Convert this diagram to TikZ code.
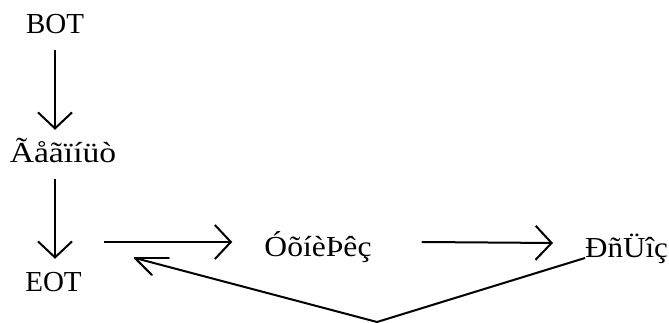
\documentclass[tikz,border=0pt]{standalone}
\usepackage{fontspec}
\setmainfont{Liberation Serif}
\usetikzlibrary{arrows.meta}
\begin{document}
\begin{tikzpicture}[x=1pt,y=1pt,
  lbl/.style={inner sep=0pt, text height=20pt, text depth=6pt,
              font=\fontsize{29}{29}\selectfont},
  wide/.style={lbl, font=\fontsize{29}{29}\selectfont\addfontfeature{FakeStretch=#1}},
  link/.style={line width=2pt, -{Straight Barb[length=16pt,width=34pt]}},
  vlink/.style={link, shorten <=10pt, shorten >=13pt},
  plain/.style={line width=2pt, line join=miter}]
\useasboundingbox (0,0) rectangle (669,323);

% labels, placed by their baselines
\node[lbl, anchor=base] (bot) at (55,289) {BOT};
\node[wide=1.16, anchor=base] (ev)  at (63,160) {Ãåãïíüò};
\node[lbl, anchor=base] (eot) at (53.5,31) {EOT};
\node[wide=1.09, anchor=base] (cond) at (318,66) {ÓõíèÞêç};
\node[wide=1.07, anchor=base west] (act) at (585,65) {ÐñÜîç};

% vertical chain
\draw[vlink] (bot.south) -- (bot.south |- ev.north);
\draw[vlink] (bot.south |- ev.south) -- (bot.south |- eot.north);

% horizontal chain
\draw[link] ([shift={(22,15)}]eot.east |- cond.base) -- ([shift={(-32,15)}]cond.base west);
\draw[link] ([shift={(50,15)}]cond.base east) -- ([shift={(-32,15)}]act.base west);

% return path with its own head
\coordinate (low) at (377,1);
\coordinate (tip) at ([xshift=53pt]eot.east |- act.base);
\draw[plain] (act.base west) -- (low) -- (tip);
\draw[plain, line cap=round] (tip) -- ++(34,0);
\draw[plain, line cap=round] (tip) -- ++(17,-17);
\end{tikzpicture}
\end{document}
